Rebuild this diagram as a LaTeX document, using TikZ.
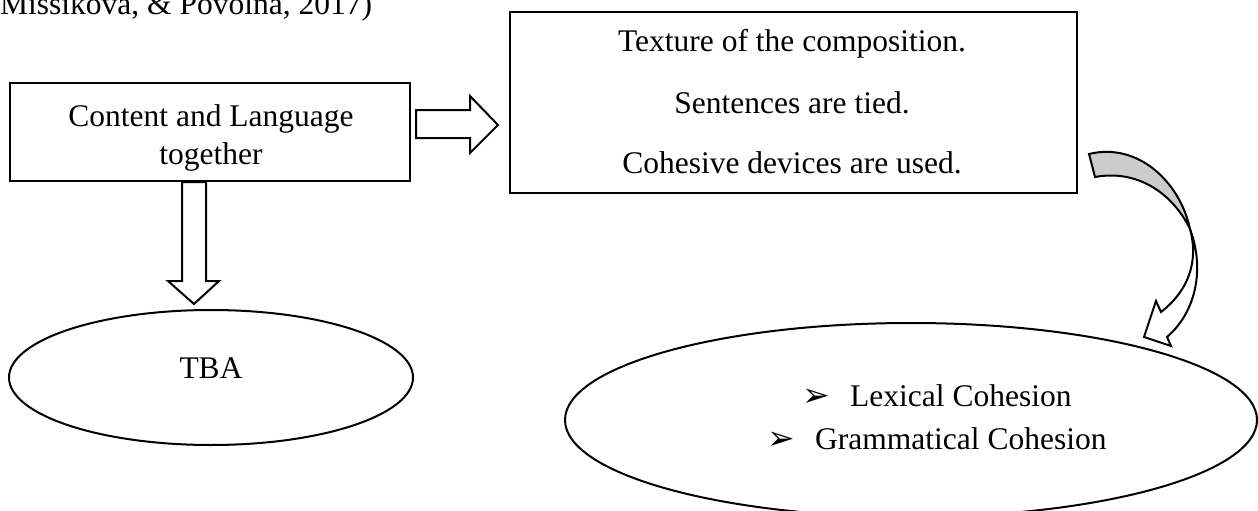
\documentclass[tikz,border=0pt]{standalone}
\usepackage{fontspec}
\setmainfont{Liberation Serif}
\newfontfamily\dingfont{DejaVu Sans}
\usetikzlibrary{shapes.geometric,calc}

\begin{document}
\begin{tikzpicture}[x=1pt,y=-1pt,
  font=\fontsize{31.5}{37}\selectfont,
  frame/.style={draw, line width=2pt, rectangle, inner sep=0pt},
  oval/.style={draw, line width=2pt, ellipse, inner sep=0pt},
  blk/.style={draw, line width=2pt, fill=white, line join=miter},
  lbl/.style={inner sep=0pt, anchor=base},
  lblw/.style={inner sep=0pt, anchor=base west},
  bul/.style={inner sep=0pt, anchor=base west, font=\dingfont\fontsize{33}{33}\selectfont},
]
\useasboundingbox (0,0) rectangle (1258,511);
\clip (0,0) rectangle (1258,511);

% citation tail from the preceding paragraph
\node[lblw] (cite) at (0,15) {Missikova, \& Povolna, 2017)};

% boxes and ovals
\node[frame, minimum width=400pt, minimum height=98pt] (b1) at (210,132) {};
\node[frame, minimum width=567pt, minimum height=181pt] (b2) at (793.5,102.5) {};
\node[oval, minimum width=404pt, minimum height=135pt] (e1) at (211,377.5) {};
\node[oval, minimum width=692pt, minimum height=194pt] (e2) at (911,420) {};

% texts
\node[lbl] (t1a) at (211,126) {Content and Language};
\node[lbl] (t1b) at (211,164) {together};
\node[lbl] (t2a) at (792,52) {Texture of the composition.};
\node[lbl] (t2b) at (792,113) {Sentences are tied.};
\node[lbl] (t2c) at (792,173) {Cohesive devices are used.};
\node[lbl] (t3) at (211,378) {TBA};
\node[bul] (l1b) at (802,406) {➢};
\node[lblw] (l1) at (850,406) {Lexical Cohesion};
\node[bul] (l2b) at (767,449) {➢};
\node[lblw] (l2) at (815,449) {Grammatical Cohesion};

% block arrow: box 1 -> box 2
\draw[blk] ($(b1.east)+(5,-22)$) -- ++(54,0) -- ++(0,-14) -- ++(28,29)
  -- ++(-28,28) -- ++(0,-15) -- ++(-54,0) -- cycle;

% block arrow: box 1 -> TBA
\draw[blk] ($(b1.south)+(-28,0)$) -- ++(0,99) -- ++(-14,0) -- ++(26,23)
  -- ++(25,-23) -- ++(-13,0) -- ++(0,-99) -- cycle;

% curved ribbon arrow: box 2 -> oval 2
\begin{scope}[shift={(b2.south east)}]
  \coordinate (tw) at (112,35);
  \draw[line width=2pt, fill=black!20, line join=miter]
    (11,-40) .. controls (60,-52) and (102,-12) .. (tw)
    .. controls (95,0) and (60,-25) .. (17,-17) -- cycle;
  \draw[blk]
    (tw) .. controls (121,68) and (110,97) .. (83,118)
    -- (78,107) -- (66,143) -- (93,152) -- (89,143)
    .. controls (118,118) and (127,75) .. (tw) -- cycle;
\end{scope}
\end{tikzpicture}
\end{document}
